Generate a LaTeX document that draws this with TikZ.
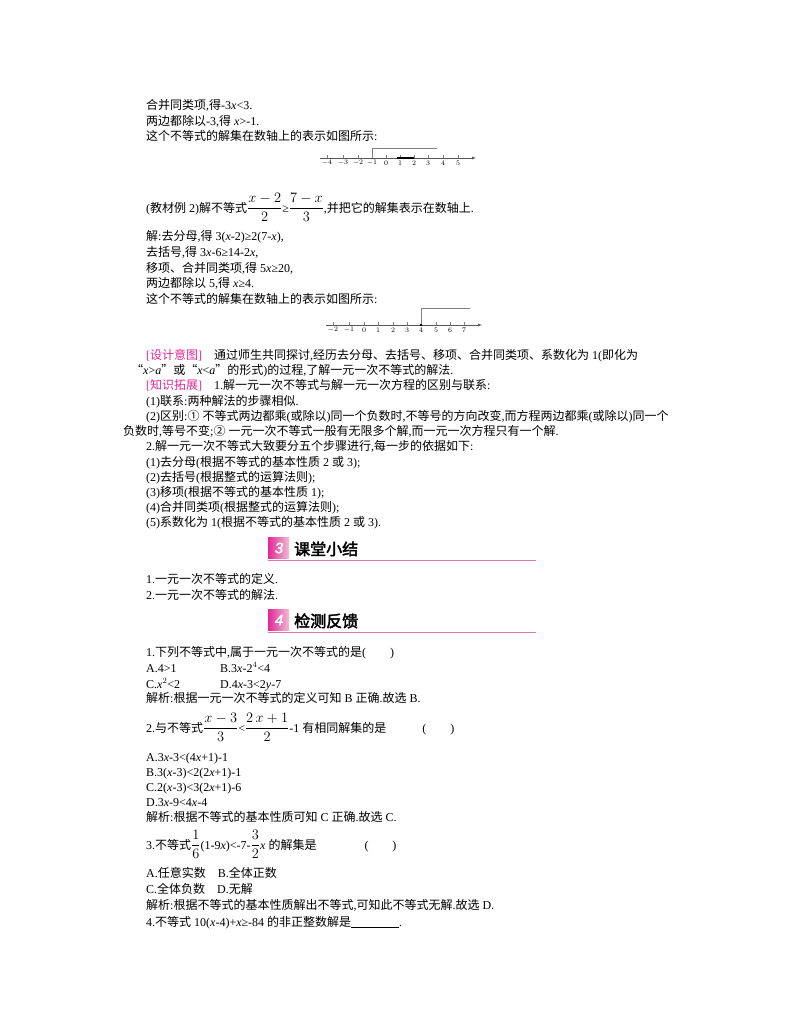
\documentclass[tikz,border=0pt]{standalone}
\usepackage{amsmath}
\usepackage{fontspec}
\setmainfont{Liberation Serif}
\newfontfamily\cjk{Noto Sans CJK SC}
\newfontfamily\cjkb[FakeBold=2.5]{Noto Sans CJK SC}
\newfontfamily\lat{Liberation Serif}
\newfontfamily\hdnum[FakeBold=1.5]{Liberation Sans}
\let\curcjk\cjk
\XeTeXinterchartokenstate=1
\newXeTeXintercharclass\CJKcls
\count255="4E00
\loop \XeTeXcharclass\count255=\CJKcls \ifnum\count255<"9FFF \advance\count255 by 1 \repeat
\count255="3000
\loop \XeTeXcharclass\count255=\CJKcls \ifnum\count255<"303F \advance\count255 by 1 \repeat
\count255="FF00
\loop \XeTeXcharclass\count255=\CJKcls \ifnum\count255<"FFEF \advance\count255 by 1 \repeat
\count255="2460
\loop \XeTeXcharclass\count255=\CJKcls \ifnum\count255<"2473 \advance\count255 by 1 \repeat
\XeTeXcharclass"201C=\CJKcls \XeTeXcharclass"201D=\CJKcls
\XeTeXinterchartoks 0 \CJKcls={\curcjk}
\XeTeXinterchartoks 4095 \CJKcls={\curcjk}
\XeTeXinterchartoks \CJKcls 0={\lat}
\XeTeXinterchartoks \CJKcls 4095={\lat}
\newcommand\bfr[2]{{\fontsize{15}{16}\selectfont$\dfrac{#1}{#2}$}}
\definecolor{pk}{RGB}{226,40,150}
\definecolor{hd}{RGB}{225,120,170}
\begin{document}
\begin{tikzpicture}[x=1pt,y=-1pt,
 t/.style={anchor=base west,inner sep=0pt,font=\fontsize{12}{13}\selectfont},
 lab/.style={inner sep=0pt,font=\fontsize{7}{8}\selectfont},
 hdr/.style={anchor=base west,inner sep=0pt,font=\fontsize{16}{17}\let\curcjk\cjkb\cjkb}]
\useasboundingbox (0,0) rectangle (800,1028);
\fill[white] (0,0) rectangle (800,1028);
\node[t] (l1) at (146,109) {合并同类项,得-3\textit{x}<3.};
\node[t] (l2) at (146,125) {两边都除以-3,得 \textit{x}>-1.};
\node[t] (l3) at (146,140) {这个不等式的解集在数轴上的表示如图所示:};
% number line 1
\coordinate (a1) at (320,158); \coordinate (b1) at (476,158);
\draw[-latex,gray!70!black] (a1) -- (b1);
\foreach \v/\x in {-4/327,-3/343,-2/358,-1/372,0/386,1/400,2/414,3/428,4/443,5/458}{
 \draw[gray] (\x,158) -- (\x,155);
 \node[lab] at (\x,163) {$\v$};}
\draw[gray] (372,158) -- (372,148) -- (437,148);
\draw[line width=1.2pt] (397,158) -- (414,158);
\node[t] (l4) at (146,212) {(教材例 2)解不等式\bfr{x-2}{2}≥\bfr{7-x}{3},并把它的解集表示在数轴上.};
\node[t] (l5) at (146,240) {解:去分母,得 3(\textit{x}-2)≥2(7-\textit{x}),};
\node[t] (l6) at (146,256) {去括号,得 3\textit{x}-6≥14-2\textit{x},};
\node[t] (l7) at (146,272) {移项、合并同类项,得 5\textit{x}≥20,};
\node[t] (l8) at (146,287) {两边都除以 5,得 \textit{x}≥4.};
\node[t] (l9) at (146,303) {这个不等式的解集在数轴上的表示如图所示:};
% number line 2
\draw[-latex,gray!70!black] (326,325) -- (482,325);
\foreach \v/\x in {-2/333,-1/349,0/364,1/378,2/393,3/407,4/421,5/436,6/450,7/464}{
 \draw[gray] (\x,325) -- (\x,322);
 \node[lab] at (\x,330) {$\v$};}
\draw[gray] (421,325) -- (421,308) -- (470,308);
\fill (421,325) circle (1.4);
\node[t] (s1) at (146,359) {\textcolor{pk}{[设计意图]}\quad 通过师生共同探讨,经历去分母、去括号、移项、合并同类项、系数化为 1(即化为};
\node[t] (s2) at (131,374) {“\textit{x}>\textit{a}”或“\textit{x}<\textit{a}”的形式)的过程,了解一元一次不等式的解法.};
\node[t] (s3) at (146,389) {\textcolor{pk}{[知识拓展]}\quad 1.解一元一次不等式与解一元一次方程的区别与联系:};
\node[t] (s4) at (146,405) {(1)联系:两种解法的步骤相似.};
\node[t] (s5) at (146,420) {(2)区别:① 不等式两边都乘(或除以)同一个负数时,不等号的方向改变,而方程两边都乘(或除以)同一个};
\node[t] (s6) at (123,435) {负数时,等号不变;② 一元一次不等式一般有无限多个解,而一元一次方程只有一个解.};
\node[t] (s7) at (146,450) {2.解一元一次不等式大致要分五个步骤进行,每一步的依据如下:};
\node[t] (s8) at (146,466) {(1)去分母(根据不等式的基本性质 2 或 3);};
\node[t] (s9) at (146,481) {(2)去括号(根据整式的运算法则);};
\node[t] (s10) at (146,496) {(3)移项(根据不等式的基本性质 1);};
\node[t] (s11) at (146,511) {(4)合并同类项(根据整式的运算法则);};
\node[t] (s12) at (146,526) {(5)系数化为 1(根据不等式的基本性质 2 或 3).};
% header 3
\shade[left color=pk,right color=hd!50] (268,537) rectangle (289,558);
\node[inner sep=0pt,font=\fontsize{15}{16}\hdnum\itshape,text=white] (n3) at (279,548) {3};
\node[hdr] (h3) at (294,555) {课堂小结};
\draw[hd,line width=1pt] (268,560) -- (536,560);
\node[t] (c1) at (146,583) {1.一元一次不等式的定义.};
\node[t] (c2) at (146,599) {2.一元一次不等式的解法.};
% header 4
\shade[left color=pk,right color=hd!50] (268,609) rectangle (289,630);
\node[inner sep=0pt,font=\fontsize{15}{16}\hdnum\itshape,text=white] (n4) at (279,620) {4};
\node[hdr] (h4) at (294,627) {检测反馈};
\draw[hd,line width=1pt] (268,632) -- (536,632);
\node[t] (q1) at (146,656) {1.下列不等式中,属于一元一次不等式的是(\qquad)};
\node[t] (q1a) at (146,672) {A.4>1};
\node[t] (q1b) at (220,672) {B.3\textit{x}-2$^4$<4};
\node[t] (q1c) at (146,688) {C.\textit{x}$^2$<2};
\node[t] (q1d) at (220,688) {D.4\textit{x}-3<2\textit{y}-7};
\node[t] (q1e) at (146,702) {解析:根据一元一次不等式的定义可知 B 正确.故选 B.};
\node[t] (q2) at (146,732) {2.与不等式\bfr{x-3}{3}<\bfr{2\,x+1}{2}-1 有相同解集的是\qquad\quad(\qquad)};
\node[t] (q2a) at (146,761) {A.3\textit{x}-3<(4\textit{x}+1)-1};
\node[t] (q2b) at (146,776) {B.3(\textit{x}-3)<2(2\textit{x}+1)-1};
\node[t] (q2c) at (146,791) {C.2(\textit{x}-3)<3(2\textit{x}+1)-6};
\node[t] (q2d) at (146,806) {D.3\textit{x}-9<4\textit{x}-4};
\node[t] (q2e) at (146,821) {解析:根据不等式的基本性质可知 C 正确.故选 C.};
\node[t] (q3) at (146,849) {3.不等式\bfr{1}{6}(1-9\textit{x})<-7-\bfr{3}{2}\textit{x} 的解集是\qquad\qquad(\qquad)};
\node[t] (q3a) at (146,877) {A.任意实数\quad B.全体正数};
\node[t] (q3b) at (146,893) {C.全体负数\quad D.无解};
\node[t] (q3e) at (146,909) {解析:根据不等式的基本性质解出不等式,可知此不等式无解.故选 D.};
\node[t] (q4) at (146,926) {4.不等式 10(\textit{x}-4)+\textit{x}≥-84 的非正整数解是\rule[-1pt]{48pt}{0.5pt}.};
\end{tikzpicture}
\end{document}
